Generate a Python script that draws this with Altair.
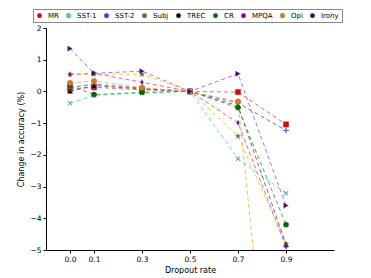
import math
import altair as alt
import pandas as pd

dropout = [0.0, 0.1, 0.3, 0.5, 0.7, 0.9]
series_names = ["MR", "SST-1", "SST-2", "Subj", "TREC", "CR", "MPQA", "Opi", "Irony"]
MR = [0.08, 0.13, 0.05, 0.0, -0.02, -1.04]
SST1 = [-0.37, -0.12, -0.05, 0.0, -2.12, -3.21]
SST2 = [0.12, 0.23, 0.10, 0.0, -0.36, -1.23]
Subj = [0.53, 0.55, 0.54, 0.0, -1.41, -4.8]
TREC = [0.01, 0.18, 0.08, 0.0, -0.45, -4.83]
CR = [0.19, -0.10, -0.03, 0.0, -0.51, -4.2]
MPQA = [0.54, 0.57, 0.29, 0.0, -0.99, -4.9]
Opi = [0.27, 0.33, 0.12, 0.0, -0.32, -15.0]
Irony = [1.35, 0.57, 0.64, 0.0, 0.56, -3.6]
values = [MR, SST1, SST2, Subj, TREC, CR, MPQA, Opi, Irony]

x_ticks = [0.0, 0.1, 0.3, 0.5, 0.7, 0.9]
y_ticks = [-5, -4, -3, -2, -1, 0, 1, 2]

rows = []
for name, vals in zip(series_names, values):
    for xv, yv in zip(dropout, vals):
        rows.append({"rate": xv, "change": yv, "dataset": name})
df = pd.DataFrame(rows)

def fmt(v):
    return f"{v:.3f}"

def poly(pts):
    return "M" + "L".join(f"{fmt(a)},{fmt(b)}" for a, b in pts) + "Z"

w = 0.13
plus_pts = [(-1, -w), (-w, -w), (-w, -1), (w, -1), (w, -w), (1, -w), (1, w), (w, w), (w, 1), (-w, 1), (-w, w), (-1, w)]
c = math.sqrt(0.5)
x_pts = [((a - b) * c, (a + b) * c) for a, b in plus_pts]
star_pts = []
for i in range(10):
    r = 1.0 if i % 2 == 0 else 0.42
    ang = -math.pi / 2 + i * math.pi / 5
    star_pts.append((r * math.cos(ang), r * math.sin(ang)))

shapes = [
    "square",
    poly(x_pts),
    poly(plus_pts),
    poly(star_pts),
    "triangle-up",
    "circle",
    "M0,-1L0.55,0L0,1L-0.55,0Z",
    "circle",
    "triangle-right",
]
marker_colors = ["#e00000", "#3fd0d0", "#3a3aff", "#6e6e1a", "#000000", "#006a00", "#880088", "#e07b00", "#400070"]
line_colors = ["#ff5050", "#40e0d0", "#5050ff", "#d8d800", "#555555", "#33a033", "#e040e0", "#ffaa40", "#9a5ccc"]

xs = alt.X("rate:Q", scale=alt.Scale(domain=[-0.1, 1.1], nice=False),
           axis=alt.Axis(values=x_ticks, format=".1f", title="Dropout rate", grid=False))
ys = alt.Y("change:Q", scale=alt.Scale(domain=[-5, 2], nice=False),
           axis=alt.Axis(values=y_ticks, format="d", title="Change in accuracy (%)", grid=False))

lines = alt.Chart(df).mark_line(strokeDash=[4, 3], strokeWidth=1, clip=True, opacity=0.85).encode(
    x=xs, y=ys,
    color=alt.Color("dataset:N", scale=alt.Scale(domain=series_names, range=line_colors), legend=None),
    detail="dataset:N",
)

points = alt.Chart(df).mark_point(filled=True, size=30, opacity=1, clip=True, stroke="#777777", strokeWidth=0.4).encode(
    x=xs, y=ys,
    color=alt.Color("dataset:N", scale=alt.Scale(domain=series_names, range=marker_colors),
                    legend=alt.Legend(title=None, orient="none", direction="horizontal", columns=9,
                                      legendX=-13, legendY=-19, strokeColor="#888888", padding=3,
                                      labelFontSize=7, symbolSize=22, columnPadding=6, labelOffset=5,
                                      fillColor="white", symbolStrokeWidth=0.4)),
    shape=alt.Shape("dataset:N", scale=alt.Scale(domain=series_names, range=shapes), legend=None),
)

chart = alt.layer(lines, points).resolve_scale(color="independent").properties(
    width=288, height=222,
    autosize=alt.AutoSizeParams(type="none"),
    padding={"left": 38, "top": 20, "right": 29, "bottom": 24},
).configure_view(stroke=None).configure_axis(
    labelFont="DejaVu Sans", titleFont="DejaVu Sans", labelFontSize=7.5, titleFontSize=8,
    titleFontWeight="normal", labelColor="black", titleColor="black", domainColor="black",
    tickColor="black", tickSize=3, domainWidth=1,
).configure_axisY(titlePadding=4).configure_axisX(titlePadding=4).configure_legend(
    labelFont="DejaVu Sans", labelColor="black"
)

chart.save("out.html", embed_options={"renderer": "svg", "actions": False})
